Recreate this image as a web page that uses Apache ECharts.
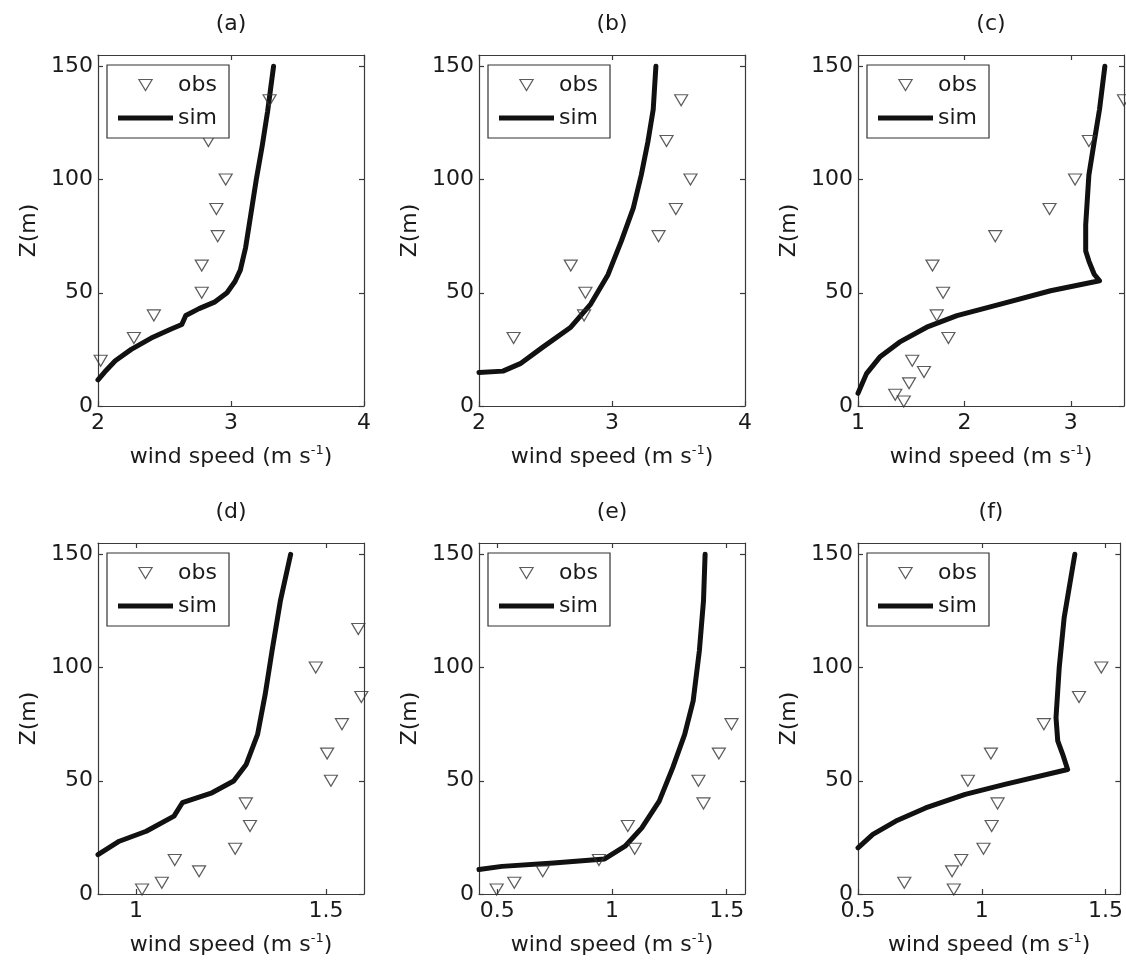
<!DOCTYPE html>
<html>
<head>
<meta charset="utf-8">
<script src="https://cdn.jsdelivr.net/npm/echarts@6/dist/echarts.min.js"></script>
<style>
  html, body { margin: 0; padding: 0; background: #fff; }
  #main { width: 1126px; height: 965px; }
</style>
</head>
<body>
<div id="main"></div>
<script>
// observed profiles: [wind speed, height]
const obsA = [[3.29,135],[2.83,117],[2.96,100],[2.89,87],[2.90,75],[2.78,62],[2.78,50],[2.42,40],[2.27,30],[2.02,20]];
const obsB = [[3.52,135],[3.41,117],[3.59,100],[3.48,87],[3.35,75],[2.69,62],[2.80,50],[2.79,40],[2.26,30]];
const obsC = [[3.5,135],[3.17,117],[3.04,100],[2.80,87],[2.29,75],[1.70,62],[1.80,50],[1.74,40],[1.85,30],[1.51,20],[1.62,15],[1.48,10],[1.35,5],[1.43,2]];
const obsD = [[1.585,117],[1.473,100],[1.593,87],[1.542,75],[1.503,62],[1.513,50],[1.289,40],[1.30,30],[1.261,20],[1.102,15],[1.166,10],[1.068,5],[1.016,2]];
const obsE = [[1.521,75],[1.466,62],[1.377,50],[1.399,40],[1.069,30],[1.099,20],[0.943,15],[0.698,10],[0.574,5],[0.497,2]];
const obsF = [[1.483,100],[1.393,87],[1.251,75],[1.037,62],[0.944,50],[1.064,40],[1.04,30],[1.007,20],[0.917,15],[0.88,10],[0.687,5],[0.887,2]];

// simulated profiles: [wind speed, height]
const simA = [[2.0,11.5],[2.05,15],[2.13,20],[2.25,25],[2.4,30],[2.55,34],[2.63,36],[2.66,40],[2.76,43],[2.88,46],[2.97,50],[3.03,55],[3.07,60],[3.11,70],[3.15,85],[3.19,100],[3.235,115],[3.275,130],[3.32,150]];
const simB = [[2.0,14.8],[2.18,15.4],[2.31,18.7],[2.48,26],[2.69,34.8],[2.84,45],[2.97,58],[3.07,72.8],[3.16,87.4],[3.22,102],[3.27,116.7],[3.31,131],[3.33,150]];
const simC = [[1.0,5.6],[1.08,14.3],[1.205,21.6],[1.39,28.2],[1.646,34.8],[1.93,39.9],[2.34,45],[2.81,50.9],[3.27,55.3],[3.22,58.2],[3.17,64],[3.14,68.4],[3.14,80],[3.17,102],[3.22,116.7],[3.27,131],[3.32,150]];
const simD = [[0.9,17.4],[0.956,23.3],[1.027,27.7],[1.10,34.4],[1.122,40.3],[1.2,44.7],[1.257,49.9],[1.29,57.2],[1.32,70.5],[1.34,88.2],[1.358,107.4],[1.38,129.5],[1.407,150]];
const simE = [[0.42,10.8],[0.52,12.2],[0.745,13.7],[0.968,15.5],[1.057,21.1],[1.13,29.2],[1.206,41],[1.265,55.8],[1.317,70.5],[1.354,85.3],[1.381,107.4],[1.399,129.5],[1.406,150]];
const simF = [[0.5,20.4],[0.56,26.3],[0.653,32.2],[0.773,38],[0.933,44],[1.093,48.4],[1.347,55],[1.327,61.7],[1.307,67.6],[1.3,77.9],[1.313,100],[1.333,122.1],[1.376,150]];

const panelTitles = ['(a)', '(b)', '(c)', '(d)', '(e)', '(f)'];
const xMins = [2, 2, 1, 0.9, 0.42, 0.5];
const xMaxs = [4, 4, 3.5, 1.6, 1.58, 1.56];
const xTicks = [[2, 3, 4], [2, 3, 4], [1, 2, 3], [1, 1.5], [0.5, 1, 1.5], [0.5, 1, 1.5]];
const yTicks = [0, 50, 100, 150];
const yMax = 155;

const obsAll = [obsA, obsB, obsC, obsD, obsE, obsF];
const simAll = [simA, simB, simC, simD, simE, simF];

const font = "'DejaVu Sans', sans-serif";
const ink = '#1a1a1a';
const frame = '#3a3a3a';
const fs = 22;
const triangle = 'path://M0,0L12,0L6,10Z';
const bar = 'path://M0,0L55,0L55,5L0,5Z';

const lefts = [98, 479, 858];
const tops = [55, 543];
const gw = 266, gh = 351;

const chart = echarts.init(document.getElementById('main'));

const grid = [], xAxis = [], yAxis = [], series = [], legend = [], title = [];

for (let i = 0; i < 6; i++) {
  const left = lefts[i % 3];
  const top = tops[Math.floor(i / 3)];
  grid.push({ left: left, top: top, width: gw, height: gh });

  title.push({
    text: panelTitles[i],
    left: left + gw / 2,
    top: top - 42,
    textAlign: 'center',
    padding: 0,
    textStyle: { fontFamily: font, fontSize: fs, fontWeight: 'normal', color: ink }
  });

  const lineStyle = { color: frame, width: 1.2 };
  // bottom axis
  xAxis.push({
    type: 'value', gridIndex: i, position: 'bottom',
    min: xMins[i], max: xMaxs[i],
    axisLine: { show: true, onZero: false, lineStyle: lineStyle },
    axisTick: { show: true, inside: true, length: 5, customValues: xTicks[i], lineStyle: lineStyle },
    axisLabel: { customValues: xTicks[i], margin: 6, fontFamily: font, fontSize: fs, color: ink },
    splitLine: { show: false },
    name: '{n|wind speed (m s}{s|-1}{n|)}',
    nameLocation: 'middle', nameGap: 38,
    nameTextStyle: {
      rich: {
        n: { fontFamily: font, fontSize: fs, color: ink, lineHeight: 26 },
        s: { fontFamily: font, fontSize: 13, color: ink, verticalAlign: 'top', lineHeight: 14 }
      }
    }
  });
  // top mirrored axis
  xAxis.push({
    type: 'value', gridIndex: i, position: 'top',
    min: xMins[i], max: xMaxs[i],
    axisLine: { show: true, onZero: false, lineStyle: lineStyle },
    axisTick: { show: true, inside: true, length: 5, customValues: xTicks[i], lineStyle: lineStyle },
    axisLabel: { show: false },
    splitLine: { show: false }
  });
  // left axis
  yAxis.push({
    type: 'value', gridIndex: i, position: 'left',
    min: 0, max: yMax,
    axisLine: { show: true, onZero: false, lineStyle: lineStyle },
    axisTick: { show: true, inside: true, length: 5, customValues: yTicks, lineStyle: lineStyle },
    axisLabel: { customValues: yTicks, margin: 5, fontFamily: font, fontSize: fs, color: ink },
    splitLine: { show: false },
    name: 'Z(m)', nameLocation: 'middle', nameGap: 58, nameRotate: 90,
    nameTextStyle: { fontFamily: font, fontSize: fs, color: ink }
  });
  // right mirrored axis
  yAxis.push({
    type: 'value', gridIndex: i, position: 'right',
    min: 0, max: yMax,
    axisLine: { show: true, onZero: false, lineStyle: lineStyle },
    axisTick: { show: true, inside: true, length: 5, customValues: yTicks, lineStyle: lineStyle },
    axisLabel: { show: false },
    splitLine: { show: false }
  });

  series.push({
    name: 'obs', type: 'scatter',
    xAxisIndex: 2 * i, yAxisIndex: 2 * i,
    data: obsAll[i],
    symbol: triangle, symbolSize: [13, 11],
    itemStyle: { color: 'rgba(255,255,255,0)', borderColor: '#333', borderWidth: 1.2 },
    z: 3
  });
  series.push({
    name: 'sim', type: 'line',
    xAxisIndex: 2 * i, yAxisIndex: 2 * i,
    data: simAll[i],
    symbol: 'none', showSymbol: false,
    color: '#111',
    lineStyle: { color: '#111', width: 5, cap: 'round', join: 'round' },
    z: 2
  });

  legend.push({
    orient: 'vertical',
    left: left + 9, top: top + 10,
    data: [
      { name: 'obs' },
      { name: 'sim', icon: bar, itemStyle: { color: '#111', borderWidth: 0 } }
    ],
    itemWidth: 55, itemHeight: 11, itemGap: 11,
    padding: [9, 12, 9, 11],
    backgroundColor: '#fff',
    borderColor: '#333', borderWidth: 1.2, borderRadius: 0,
    selectedMode: false,
    itemStyle: { borderWidth: 1.2, borderColor: '#333' },
    textStyle: { fontFamily: font, fontSize: fs, color: ink, lineHeight: 22 }
  });
}

chart.setOption({
  animation: false,
  backgroundColor: '#fff',
  title: title,
  legend: legend,
  grid: grid,
  xAxis: xAxis,
  yAxis: yAxis,
  series: series
});
</script>
</body>
</html>
